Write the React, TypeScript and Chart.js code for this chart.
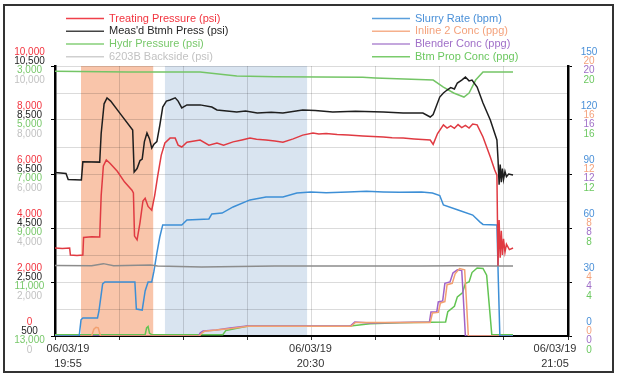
import React, { useEffect, useRef } from 'react';
import { Chart, registerables } from 'chart.js';

Chart.register(...registerables);

const FONT = '"Liberation Sans Narrow", "Arial Narrow", "Liberation Sans", Arial, sans-serif';

// time axis: minutes after 06/03/19 19:55
const xTickMinutes = [0, 35, 70];
const xTickDates = ['06/03/19', '06/03/19', '06/03/19'];
const xTickTimes = ['19:55', '20:30', '21:05'];

// shaded stages [start, end] in minutes
const stageStarts = [3.55, 15.0];
const stageEnds = [13.4, 34.4];
const stageColors = ['#f9c5aa', '#d9e4f0'];

// series: [minute, value]
const treatingPressure: [number, number][] = [
  [0, 3260], [1.0, 3240], [2.0, 3260], [2.1, 3000], [3.0, 2980], [3.8, 3000], [3.9, 3650], [5.0, 3680],
  [6.1, 3670], [6.3, 5200], [6.6, 6300], [7.0, 6520], [7.5, 6400], [8.5, 6100], [9.5, 5700], [10.5, 5400],
  [10.7, 5300], [10.85, 3700], [11.2, 3560], [11.6, 4200], [12.0, 5000], [12.3, 5100], [12.7, 4800],
  [13.2, 4660], [13.6, 5200], [14.0, 5900], [14.5, 6700], [15.0, 7150], [15.7, 7330], [16.4, 7330],
  [16.8, 7070], [17.3, 7000], [18.0, 7180], [19.8, 7260], [21.0, 7070], [22.1, 7150], [23.0, 7070],
  [24.3, 7190], [25.5, 7260], [26.6, 7330], [27.5, 7290], [28.8, 7260], [30, 7220], [31.1, 7180],
  [32.5, 7300], [33.8, 7440], [35.2, 7520], [36, 7480], [37, 7500], [38.5, 7460], [40, 7440], [42, 7410],
  [44.8, 7370], [46, 7340], [47.5, 7330], [49, 7300], [51.2, 7260], [51.6, 7100], [52.2, 7500], [53, 7820],
  [53.5, 7700], [54, 7780], [54.5, 7690], [55, 7830], [55.5, 7720], [56, 7800], [56.5, 7700], [57, 7850],
  [57.6, 7820], [58.4, 7370], [59.4, 6630], [60.0, 6150], [60.3, 5960], [60.45, 2600], [60.6, 4300],
  [60.75, 2900], [60.9, 3900], [61.05, 3000], [61.2, 3600], [61.4, 3100], [61.6, 3400], [62.0, 3200],
  [62.5, 3260],
];
const btmhPressure: [number, number][] = [
  [0, 6560], [1.5, 6520], [1.8, 6300], [3.6, 6280], [3.8, 6950], [6.1, 6940], [6.3, 8000], [6.7, 9100],
  [7.1, 9320], [7.6, 9200], [9.0, 8700], [10.6, 8130], [10.8, 6570], [11.2, 6700], [11.6, 7000],
  [11.9, 7050], [12.2, 7700], [12.55, 8020], [12.9, 7800], [13.2, 7460], [13.5, 7600], [13.9, 7700],
  [14.3, 8300], [14.7, 8980], [15.2, 9200], [15.7, 9240], [16.4, 9320], [16.8, 9200], [17.3, 8950],
  [18.0, 9060], [19.8, 9060], [21.4, 8980], [22.1, 8870], [24.8, 8800], [26, 8830], [27.6, 8760],
  [29.5, 8790], [31.1, 8760], [33.8, 8870], [35.5, 8850], [37.9, 8800], [41, 8820], [44.8, 8800],
  [47.5, 8760], [50.2, 8760], [51.2, 8610], [51.6, 8700], [52.5, 9350], [53.0, 9500], [53.5, 9610],
  [54.0, 9700], [54.5, 9650], [54.9, 9870], [55.5, 9980], [56.0, 10090], [56.5, 9950], [56.9, 9980],
  [57.6, 9720], [58.4, 9130], [59.4, 8500], [60.3, 7760], [60.45, 7050], [60.6, 6100], [60.75, 6850],
  [60.9, 6200], [61.05, 6700], [61.2, 6300], [61.4, 6600], [61.6, 6400], [61.9, 6500], [62.5, 6460],
];
const hydrPressure: [number, number][] = [
  [0, 3190], [10, 3220], [19.8, 3220], [24.8, 3370], [30, 3400], [42, 3420], [43.7, 3440], [51.6, 3520],
  [53, 3780], [54.4, 4000], [55.8, 4150], [56.5, 4000], [57.4, 3520], [58.4, 3220], [62.5, 3220],
];
const backsidePressure: [number, number][] = [
  [0, 2610], [5, 2600], [6.6, 2680], [8, 2600], [13, 2630], [14, 2590], [20, 2560], [30, 2590],
  [40, 2590], [50, 2590], [55, 2600], [60, 2590], [62.5, 2590],
];
const slurryRate: [number, number][] = [
  [0, 0], [3.3, 0], [3.55, 9], [3.8, 10], [5.8, 10], [6.0, 14], [6.5, 29], [6.8, 30], [10.9, 30],
  [11.1, 15], [11.9, 14.4], [12.3, 25], [12.7, 30], [13.2, 30], [13.5, 36], [13.9, 46], [14.3, 55],
  [14.7, 61.7], [17.3, 61.7], [18.0, 64.4], [21.0, 65], [21.4, 67.8], [22.8, 68.3], [24.3, 71.7],
  [26.6, 75.6], [28.8, 77.2], [31.1, 77.2], [33.0, 79.4], [34.9, 80], [37, 79.6], [40, 80], [42.5, 80.4],
  [44.8, 80], [47, 79.8], [50, 80], [51.5, 79.4], [52.5, 78], [53.0, 72.8], [55.0, 70], [57.0, 67.2],
  [58.0, 63.3], [58.4, 62], [60.3, 61.7], [60.5, 30], [60.7, 0], [62.5, 0],
];
const inline2Conc: [number, number][] = [
  [0, 0], [5.0, 0], [5.3, 0.5], [5.6, 0.65], [5.9, 0.6], [6.2, 0], [19.7, 0], [20.0, 0.2], [20.4, 0.35],
  [24, 0.55], [26.4, 0.72], [40.4, 0.72], [41, 1.0], [51.2, 1.0], [51.5, 1.7], [52.3, 1.75], [52.6, 2.45],
  [53.2, 2.55], [53.5, 3.8], [54.2, 3.9], [54.6, 4.6], [55.2, 5.0], [55.9, 4.9], [56.1, 3.0], [56.4, 0],
  [62.5, 0],
];
const blenderConc: [number, number][] = [
  [0, 0], [19.6, 0], [19.8, 0.22], [20.2, 0.37], [22, 0.45], [23.9, 0.59], [26.2, 0.74], [40.3, 0.74],
  [40.9, 1.04], [43, 0.96], [47, 1.0], [51.1, 1.04], [51.3, 1.78], [52.1, 1.8], [52.3, 2.52], [52.9, 2.6],
  [53.2, 3.9], [53.9, 4.0], [54.3, 4.67], [54.9, 4.9], [55.5, 4.85], [55.7, 3.0], [56.0, 0], [62.5, 0],
];
const btmPropConc: [number, number][] = [
  [0, 0.1], [12.3, 0.1], [12.5, 0.6], [12.7, 0.7], [12.9, 0.2], [13.2, 0.1], [22.9, 0.1], [23.3, 0.4],
  [25, 0.6], [26.2, 0.72], [40, 0.72], [43, 0.9], [47, 0.98], [53.3, 1.04], [53.6, 1.8], [54.5, 2.2],
  [54.9, 2.9], [55.6, 3.2], [56.0, 3.9], [56.5, 4.0], [56.9, 4.7], [57.6, 5.04], [58.4, 5.0], [58.9, 4.5],
  [59.3, 2.0], [59.6, 0.1], [62.5, 0.1],
];

const seriesLabels = [
  'Treating Pressure (psi)', "Meas'd Btmh Press (psi)", 'Hydr Pressure (psi)', '6203B Backside (psi)',
  'Slurry Rate (bpm)', 'Inline 2 Conc (ppg)', 'Blender Conc (ppg)', 'Btm Prop Conc (ppg)',
];
const seriesData = [
  treatingPressure, btmhPressure, hydrPressure, backsidePressure,
  slurryRate, inline2Conc, blenderConc, btmPropConc,
];
const seriesAxes = ['yTreat', 'yBtmh', 'yHydr', 'yBack', 'ySlurry', 'yInline', 'yBlender', 'yBtmProp'];
const lineColors = ['#e03a42', '#1e1e1e', '#74c566', '#8c8c8c', '#3d8fd6', '#f2a070', '#a062c8', '#62c452'];
const swatchColors = ['#f0404a', '#444444', '#86cf78', '#cfcfcf', '#5a9fdc', '#f6b08c', '#b08ad2', '#7acc6c'];
const textColors = ['#f2343f', '#262626', '#78c86a', '#c2c2c2', '#4a90d8', '#f4a27c', '#a070c8', '#6cc860'];

const GRID = 'rgba(0,0,0,0.14)';
const X_LABEL_SHIFT = [13, -1, -13];

const hiddenAxis = (min: number, max: number, step: number, reverse = false, position = 'left') => ({
  type: 'linear', display: false, position, min, max, reverse, ticks: { stepSize: step },
});

const labelPlugin = {
  id: 'stackedLabels',
  beforeDraw(chart: any) {
    const { ctx, chartArea, scales } = chart;
    const x = scales.x;
    ctx.save();
    ctx.fillStyle = '#ffffff';
    ctx.fillRect(0, 0, chart.width, chart.height);
    stageStarts.forEach((s, i) => {
      const x0 = x.getPixelForValue(s);
      const x1 = x.getPixelForValue(stageEnds[i]);
      ctx.fillStyle = stageColors[i];
      ctx.fillRect(x0, chartArea.top, x1 - x0, chartArea.bottom - chartArea.top);
    });
    ctx.strokeStyle = '#333';
    ctx.lineWidth = 2;
    ctx.strokeRect(4, 5, 609, 367);
    ctx.restore();
  },
  afterDraw(chart: any) {
    const { ctx, scales, chartArea } = chart;
    ctx.save();
    ctx.textAlign = 'center';
    ctx.textBaseline = 'middle';
    ctx.font = `10px ${FONT}`;
    const offsets = [-14, -4.7, 4.7, 14];
    const drawGroup = (ids: string[], colorStart: number, cx: number) => {
      ids.forEach((id, k) => {
        const sc = scales[id];
        const step = sc.options.ticks.stepSize * 2;
        sc.ticks.forEach((t: any) => {
          const r = (t.value - sc.min) / step;
          if (Math.abs(r - Math.round(r)) > 1e-6) return;
          ctx.fillStyle = textColors[colorStart + k];
          ctx.fillText(t.label, cx, sc.getPixelForValue(t.value) + offsets[k]);
        });
      });
    };
    drawGroup(seriesAxes.slice(0, 4), 0, 29.5);
    drawGroup(seriesAxes.slice(4, 8), 4, 589);

    // x-axis labels (two lines)
    ctx.font = `11px ${FONT}`;
    ctx.fillStyle = '#333';
    const xs = scales.x;
    xs.ticks.forEach((t: any) => {
      const i = xTickMinutes.findIndex((m) => Math.abs(m - t.value) < 0.01);
      if (i < 0) return;
      const px = xs.getPixelForValue(t.value) + X_LABEL_SHIFT[i];
      ctx.fillText(xTickDates[i], px, chartArea.bottom + 13);
      ctx.fillText(xTickTimes[i], px, chartArea.bottom + 28);
    });

    // legend
    const rows = [18.5, 31.3, 44, 56.8];
    const cols = [{ x0: 66, x1: 104, tx: 109 }, { x0: 372, x1: 410, tx: 415 }];
    ctx.textAlign = 'left';
    ctx.font = `11px ${FONT}`;
    seriesLabels.forEach((lab, i) => {
      const c = cols[Math.floor(i / 4)];
      const y = rows[i % 4];
      ctx.strokeStyle = swatchColors[i];
      ctx.lineWidth = 1.5;
      ctx.beginPath();
      ctx.moveTo(c.x0, y);
      ctx.lineTo(c.x1, y);
      ctx.stroke();
      ctx.fillStyle = textColors[i];
      ctx.fillText(lab, c.tx, y);
    });
    ctx.restore();
  },
};

export default function App() {
  const ref = useRef<HTMLCanvasElement | null>(null);
  useEffect(() => {
    if (!ref.current) return;
    const chart = new Chart(ref.current, {
      type: 'line',
      data: {
        datasets: seriesLabels.map((label, i) => ({
          label,
          data: seriesData[i].map(([x, y]) => ({ x, y })),
          yAxisID: seriesAxes[i],
          borderColor: lineColors[i],
          backgroundColor: lineColors[i],
          borderWidth: 1.5,
          pointRadius: 0,
          tension: 0,
          fill: false,
        })),
      },
      options: {
        responsive: false,
        animation: false,
        events: [],
        layout: { padding: { top: 66, left: 0, right: 0, bottom: 0 } },
        plugins: { legend: { display: false }, tooltip: { enabled: false }, title: { display: false } },
        scales: {
          x: {
            type: 'linear',
            min: 0,
            max: 70,
            grid: { color: GRID, tickColor: '#333', tickLength: 4 },
            border: { color: '#000', width: 2 },
            ticks: { stepSize: 8.75, autoSkip: false, display: false },
            afterFit: (s: any) => { s.height = 42; },
          },
          yTreat: {
            type: 'linear',
            position: 'left',
            min: 0,
            max: 10000,
            ticks: { stepSize: 1000, display: false },
            grid: {
              color: GRID,
              tickLength: 4,
              tickColor: (c: any) => (c.tick && c.tick.value % 2000 === 0 ? '#000' : 'rgba(0,0,0,0)'),
            },
            border: { color: '#000', width: 2.5 },
            afterFit: (s: any) => { s.width = 55; },
          },
          yBtmh: hiddenAxis(500, 10500, 1000),
          yHydr: hiddenAxis(3000, 13000, 1000, true),
          yBack: hiddenAxis(0, 10000, 1000),
          ySlurry: {
            type: 'linear',
            position: 'right',
            min: 0,
            max: 150,
            ticks: { stepSize: 15, display: false },
            grid: {
              drawOnChartArea: false,
              tickLength: 4,
              tickColor: (c: any) => (c.tick && c.tick.value % 30 === 0 ? '#000' : 'rgba(0,0,0,0)'),
            },
            border: { color: '#000', width: 2.5 },
            afterFit: (s: any) => { s.width = 52; },
          },
          yInline: hiddenAxis(0, 20, 2, false, 'right'),
          yBlender: hiddenAxis(0, 20, 2, false, 'right'),
          yBtmProp: hiddenAxis(0, 20, 2, false, 'right'),
        },
      } as any,
      plugins: [labelPlugin],
    });
    return () => chart.destroy();
  }, []);
  return (
    <div style={{ position: 'absolute', left: 0, top: 0, width: 620, height: 378 }}>
      <canvas ref={ref} width={620} height={378} style={{ width: 620, height: 378, display: 'block' }} />
    </div>
  );
}
